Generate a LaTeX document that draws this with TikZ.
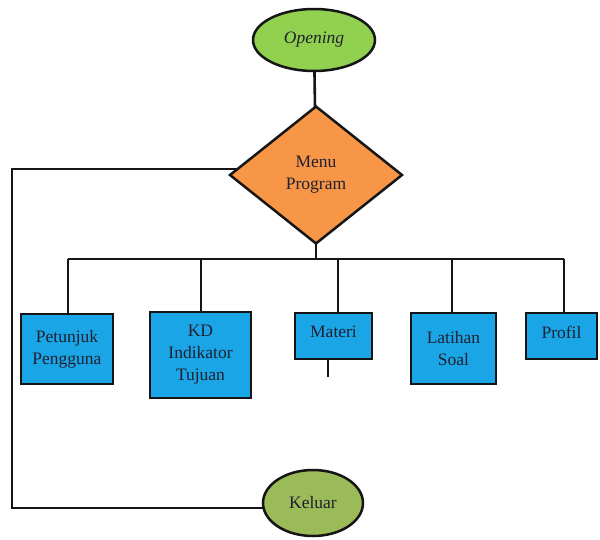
\documentclass[tikz,border=0pt]{standalone}
\usepackage{fontspec}
\setmainfont{Liberation Serif}
\usetikzlibrary{shapes.geometric,backgrounds}
\definecolor{opgreen}{HTML}{92D050}
\definecolor{kgreen}{HTML}{9BBB59}
\definecolor{dorange}{HTML}{F79646}
\definecolor{bblue}{HTML}{1AA6E6}
\definecolor{txt}{HTML}{202030}
\definecolor{ln}{HTML}{151515}
\begin{document}
\begin{tikzpicture}[x=1pt,y=-1pt,
  every node/.style={font=\fontsize{17.5}{22}\selectfont, text=txt, align=center, inner sep=2pt},
  term/.style={ellipse, draw=ln, line width=2.5pt},
  dec/.style={diamond, draw=ln, line width=2.5pt, fill=dorange},
  menubox/.style={rectangle, draw=ln, line width=2.8pt, fill=bblue},
  conn/.style={draw=ln, line width=2.6pt}]
\useasboundingbox (0,0) rectangle (600,539);
\node[term, fill=opgreen, minimum width=122pt, minimum height=62pt] (open) at (314,40) {\itshape Opening};
\node[dec, minimum width=173pt, minimum height=138pt] (menu) at (316,175) {Menu\\Program};
\node[menubox, minimum width=92pt, minimum height=70pt] (pet) at (67,349) {Petunjuk\\Pengguna};
\node[menubox, minimum width=101pt, minimum height=86pt] (kd) at (200.5,355) {KD\\Indikator\\Tujuan};
\node[menubox, minimum width=77pt, minimum height=46pt, text depth=8pt] (mat) at (333.5,336) {Materi};
\node[menubox, minimum width=85pt, minimum height=71pt] (lat) at (453.5,348.5) {Latihan\\Soal};
\node[menubox, minimum width=71pt, minimum height=46pt, text depth=8pt] (pro) at (561.5,336) {Profil};
\node[term, fill=kgreen, minimum width=100pt, minimum height=66pt] (kel) at (313,503) {Keluar};
\coordinate (b1) at (68,259);
\coordinate (b2) at (201,259);
\coordinate (b3) at (338,259);
\coordinate (b4) at (452,259);
\coordinate (b5) at (564,259);
\coordinate (lc) at (12,508);
\begin{scope}[on background layer]
\draw[conn] (open.center) -- (menu.center);
\draw[conn] (menu.center) -- (menu.center |- b1);
\draw[conn] (b1) -- (b5);
\draw[conn] (b1) -- (b1 |- pet.north);
\draw[conn] (b2) -- (b2 |- kd.north);
\draw[conn] (b3) -- (b3 |- mat.north);
\draw[conn] (b4) -- (b4 |- lat.north);
\draw[conn] (b5) -- (b5 |- pro.north);
\draw[conn] ([yshift=6pt]menu.center) -| (lc) -- (lc -| kel.center);
\end{scope}
\draw[draw=ln, line width=2pt] ([xshift=-5.5pt]mat.south) -- ++(0,17);
\end{tikzpicture}
\end{document}
